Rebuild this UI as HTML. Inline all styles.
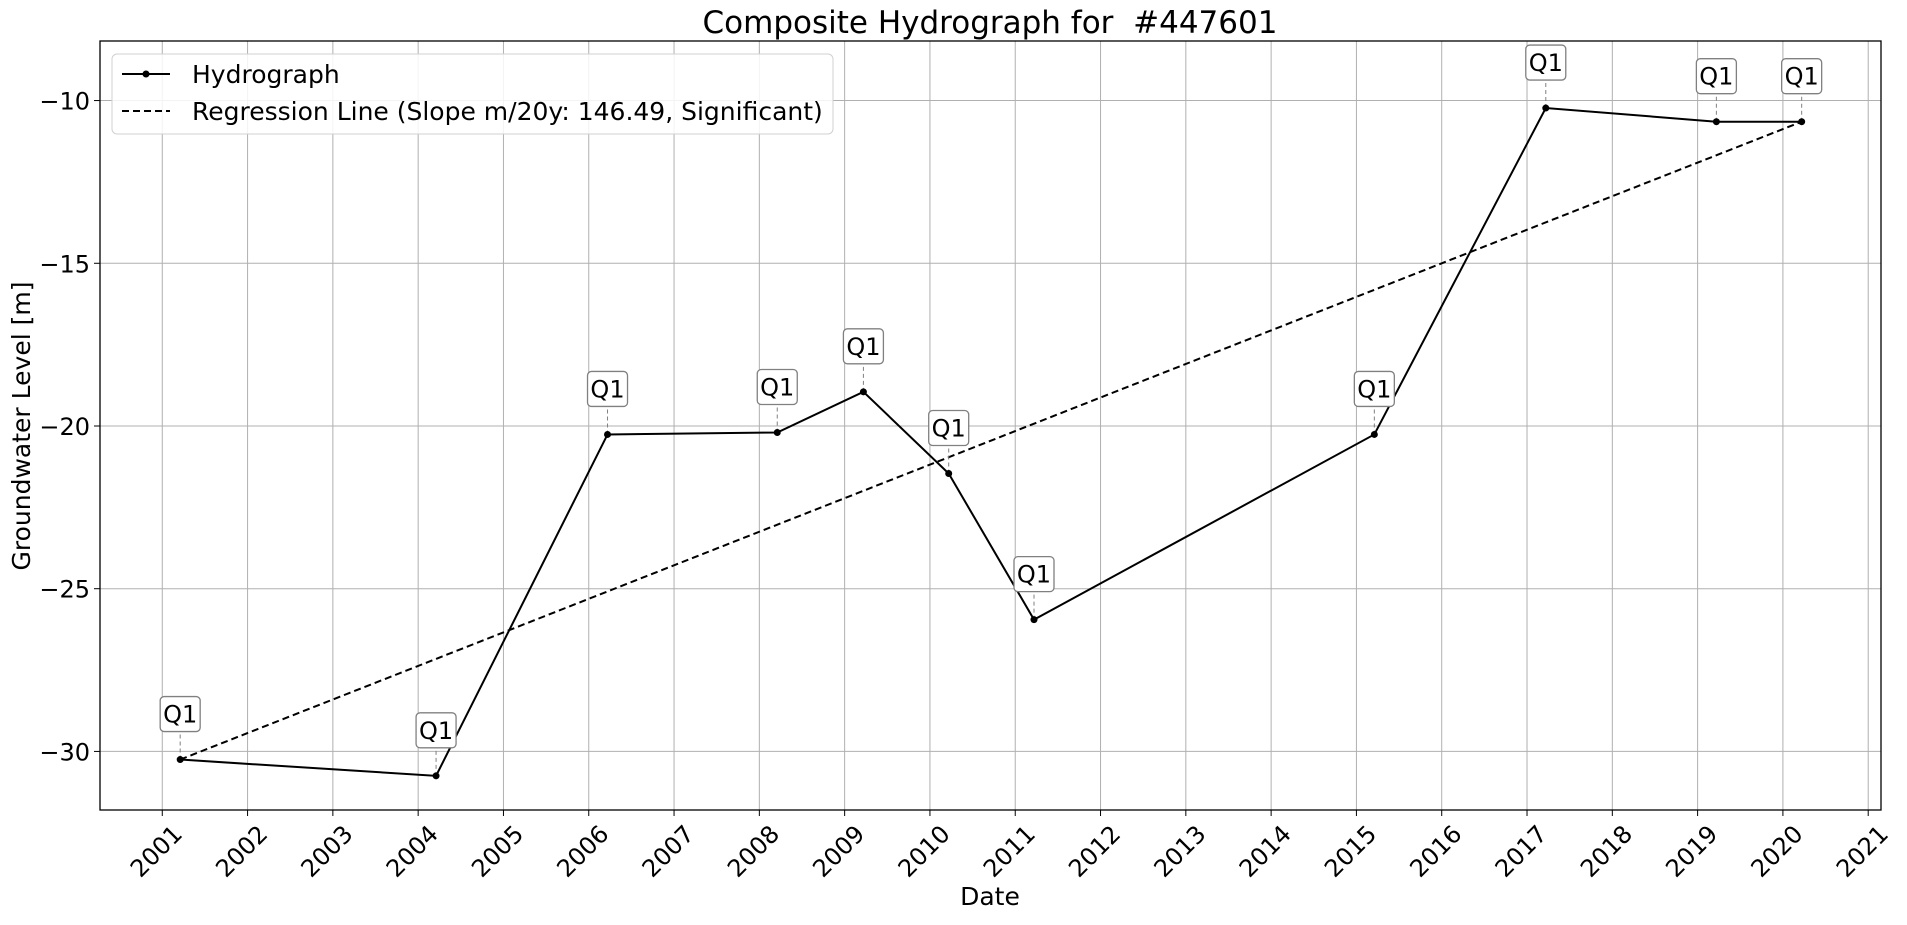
<!DOCTYPE html>
<html><head><meta charset="utf-8"><style>
body{margin:0;background:#fff}
svg{font-family:"DejaVu Sans","Liberation Sans",sans-serif}
</style></head><body>
<svg id="c" width="1907" height="920" xmlns="http://www.w3.org/2000/svg"></svg>
<script>
const years=[2001.21,2004.21,2006.22,2008.21,2009.22,2010.22,2011.22,2015.21,2017.22,2019.22,2020.22];
const levels=[-30.25,-30.75,-20.26,-20.2,-18.95,-21.46,-25.95,-20.26,-10.23,-10.65,-10.65];
const labels=["Q1","Q1","Q1","Q1","Q1","Q1","Q1","Q1","Q1","Q1","Q1"];
const regX=[2001.21,2020.22];
const regY=[-30.25,-10.65];
const xTicks=[2001,2002,2003,2004,2005,2006,2007,2008,2009,2010,2011,2012,2013,2014,2015,2016,2017,2018,2019,2020,2021];
const yTicks=[-30,-25,-20,-15,-10];
const L=100,R=1881,T=41,B=810;
const x0=2000.27,x1=2021.15,y0=-31.8,y1=-8.17;
const X=v=>L+(v-x0)/(x1-x0)*(R-L);
const Y=v=>B-(v-y0)/(y1-y0)*(B-T);
const svg=document.getElementById('c');
const NS='http://www.w3.org/2000/svg';
function mk(t,a,p){const e=document.createElementNS(NS,t);for(const k in a)e.setAttribute(k,a[k]);(p||svg).appendChild(e);return e;}
let g=mk('g',{});


xTicks.forEach(t=>{
 const l=mk('line',{x1:X(t),x2:X(t),y1:T,y2:B,stroke:'#b0b0b0','stroke-width':1},g);
 
 
 const k=mk('line',{x1:X(t),x2:X(t),y1:B,y2:B+6,stroke:'#000','stroke-width':1});
 
 
 const tx=mk('text',{x:X(t)+9,y:B+13,'font-size':24,'text-anchor':'end',transform:`rotate(-45 ${X(t)+9} ${B+13})`,'dominant-baseline':'hanging'});
 tx.textContent=t;
 
 
});
yTicks.forEach(t=>{
 const l=mk('line',{x1:L,x2:R,y1:Y(t),y2:Y(t),stroke:'#b0b0b0','stroke-width':1},g);
 
 
 const k=mk('line',{x1:L-6,x2:L,y1:Y(t),y2:Y(t),stroke:'#000'});
 
 
 const tx=mk('text',{x:L-10,y:Y(t)+9,'font-size':24,'text-anchor':'end'});
 tx.textContent='\u2212'+Math.abs(t);
 
 
});
const rl=mk('line',{x1:X(regX[0]),y1:Y(regY[0]),x2:X(regX[1]),y2:Y(regY[1]),stroke:'#000','stroke-width':2,'stroke-dasharray':'7,4'});


const hl=mk('polyline',{points:years.map((v,i)=>X(v)+','+Y(levels[i])).join(' '),fill:'none',stroke:'#000','stroke-width':2});


years.forEach((v,i)=>{
 const cx=X(v),cy=Y(levels[i]);
 const d=mk('line',{x1:cx,x2:cx,y1:cy,y2:cy-28,stroke:'#808080','stroke-width':1,'stroke-dasharray':'4,3'});
 
 
 const b=mk('rect',{x:cx-20,y:cy-63,width:40,height:35,rx:4,fill:'#fff',stroke:'#808080','stroke-width':1.3});
 
 
 const t=mk('text',{x:cx,y:cy-37,'font-size':24,'text-anchor':'middle'});
 t.textContent=labels[i];
 
 
 const p=mk('circle',{cx:cx,cy:cy,r:3.5,fill:'#000'});
 
 
});
</script>
<svg style="position:absolute;left:0;top:0" width="1907" height="920" xmlns="http://www.w3.org/2000/svg">
<rect x="100" y="41" width="1781" height="769" fill="none" stroke="#000" stroke-width="1.3"/>
<text x="990" y="33" font-size="31" text-anchor="middle" font-family="DejaVu Sans, Liberation Sans, sans-serif">Composite Hydrograph for&#160; #447601</text>
<text x="990" y="905" font-size="25" text-anchor="middle" font-family="DejaVu Sans, Liberation Sans, sans-serif">Date</text>
<text x="30" y="426" font-size="25" text-anchor="middle" transform="rotate(-90 30 426)" font-family="DejaVu Sans, Liberation Sans, sans-serif">Groundwater Level [m]</text>
<g font-family="DejaVu Sans, Liberation Sans, sans-serif">
<rect x="112" y="54" width="721" height="80" rx="5" fill="#fff" fill-opacity="0.85" stroke="#d0d0d0"/>
<g>
<line x1="122" y1="74" x2="170" y2="74" stroke="#000" stroke-width="2"/><circle cx="146" cy="74" r="3.5"/>
<text x="192" y="83" font-size="25">Hydrograph</text></g>
<g>
<line x1="122" y1="111" x2="170" y2="111" stroke="#000" stroke-width="2" stroke-dasharray="7,4"/>
<text x="192" y="120" font-size="25">Regression Line (Slope m/20y: 146.49, Significant)</text></g>
</g>
</svg>
</body></html>
